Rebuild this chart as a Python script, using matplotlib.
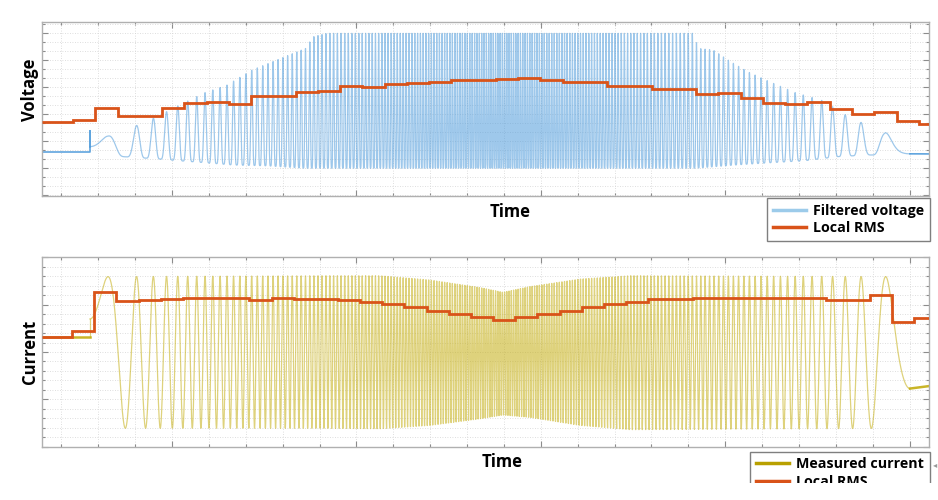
import numpy as np
import matplotlib
matplotlib.use("Agg")
import matplotlib.pyplot as plt
from matplotlib.ticker import MultipleLocator, NullFormatter
from matplotlib.lines import Line2D
from matplotlib.patches import Rectangle

plt.rcParams['font.family'] = ['Open Sans', 'DejaVu Sans']

# time axis (no tick labels in the original, arbitrary units)
t_min, t_max = 2.95, 51.05

# frequency sweep: instantaneous frequency, cycles per time unit
sweep_t = [5.55, 28.06, 50.02]
sweep_f = [0.0, 8.298, 0.0]
first_peak_offset = -0.177  # cycles before first peak when the sweep starts

# filtered voltage: idle levels and peak / trough envelopes
volt_idle_start = 0.59
volt_idle_end = 0.53
volt_spike = 1.39
volt_hi_t = [5.55, 6.53, 8.03, 8.92, 10.33, 11.73, 12.98, 14.34, 15.69, 16.62, 17.32, 17.59, 18.41,
             38.31, 38.52, 39.34, 40.31, 41.24, 42.43, 43.84, 45.19, 46.12, 46.6, 47.42, 48.61, 50.02]
volt_hi = [1.19, 1.19, 1.57, 1.83, 2.31, 2.79, 3.08, 3.64, 4.01, 4.27, 4.46, 4.86, 5.0,
           5.0, 4.44, 4.38, 3.94, 3.57, 3.20, 2.79, 2.53, 2.16, 1.94, 1.68, 1.31, 1.31]
volt_lo_t = [5.55, 7.29, 8.43, 9.35, 10.54, 11.9, 13.31, 15.15, 17.21, 38.36, 40.53, 42.32, 44.33, 46.12, 47.74, 50.02]
volt_lo = [0.43, 0.43, 0.38, 0.34, 0.27, 0.20, 0.12, 0.09, 0.0, 0.0, 0.12, 0.20, 0.28, 0.43, 0.49, 0.49]

# measured current: idle levels and envelopes
curr_idle_start = 0.31
curr_idle_end = -0.72
curr_env_t = [5.55, 18.1, 21.28, 23.99, 26.7, 27.95, 29.41, 32.13, 34.84, 50.02]
curr_hi = [1.59, 1.61, 1.61, 1.52, 1.36, 1.26, 1.38, 1.54, 1.61, 1.59]
curr_lo = [-1.61, -1.61, -1.62, -1.55, -1.41, -1.33, -1.38, -1.55, -1.64, -1.61]

# local RMS, one value per window
volt_rms_first, volt_rms_win = 4.63, 1.207
volt_rms = [1.726, 1.789, 2.244, 1.948, 1.948, 2.222, 2.407, 2.437, 2.381, 2.678,
            2.678, 2.826, 2.874, 3.059, 3.0, 3.133, 3.170, 3.196, 3.270, 3.270,
            3.307, 3.333, 3.259, 3.185, 3.185, 3.059, 3.059, 2.937, 2.937, 2.741,
            2.8, 2.593, 2.407, 2.393, 2.444, 2.185, 2.022, 2.096, 1.763, 1.630]
curr_rms_first, curr_rms_win = 4.58, 1.2017
curr_rms = [0.31, 0.445, 1.271, 1.074, 1.095, 1.117, 1.131, 1.131, 1.131, 1.102,
            1.131, 1.117, 1.123, 1.095, 1.059, 1.004, 0.941, 0.869, 0.799, 0.742,
            0.686, 0.742, 0.799, 0.869, 0.941, 1.011, 1.059, 1.110, 1.110, 1.131,
            1.131, 1.131, 1.131, 1.131, 1.131, 1.095, 1.095, 1.201, 0.636, 0.708]

BLUE = '#4f9bdb'
GOLD = '#c4ad10'
RED = '#d95319'

# sweep phase
t = np.linspace(sweep_t[0], sweep_t[-1], 60000)
f = np.interp(t, sweep_t, sweep_f)
cyc = np.concatenate([[0.0], np.cumsum((f[1:] + f[:-1]) / 2 * np.diff(t))]) + first_peak_offset
ph = 2 * np.pi * cyc

hi = np.interp(t, volt_hi_t, volt_hi)
lo = np.interp(t, volt_lo_t, volt_lo)
volt = lo + (hi - lo) * ((1 + np.cos(ph)) / 2) ** 2.2

chi = np.interp(t, curr_env_t, curr_hi)
clo = np.interp(t, curr_env_t, curr_lo)
curr = (chi + clo) / 2 + (chi - clo) / 2 * np.cos(ph)


def rms_edges(first, win, n):
    return np.concatenate([[t_min], first + win * np.arange(n - 1), [t_max]])


fig = plt.figure(figsize=(9.38, 5.0), dpi=100)
ax1 = fig.add_axes([0.0448, 0.608, 0.9456, 0.348])
ax2 = fig.add_axes([0.0448, 0.1066, 0.9456, 0.3788])

# voltage: idle parts drawn stronger, sweep drawn thin and light
ax1.plot([t_min, sweep_t[0], sweep_t[0], t[0]], [volt_idle_start, volt_idle_start, volt_spike, volt[0]],
         color=BLUE, lw=1.2, alpha=0.9)
ax1.plot(t, volt, color=BLUE, lw=0.9, alpha=0.55)
ax1.plot([t[-1], t_max], [volt[-1], volt_idle_end], color=BLUE, lw=1.2, alpha=0.9)
ax1.stairs(volt_rms, rms_edges(volt_rms_first, volt_rms_win, len(volt_rms)),
           color=RED, lw=2, baseline=None, zorder=3)

# current
ax2.plot([t_min, sweep_t[0]], [curr_idle_start, curr_idle_start], color=GOLD, lw=1.8, alpha=0.9)
ax2.plot([sweep_t[0], sweep_t[0]], [curr_idle_start, curr[0]], color=GOLD, lw=0.9, alpha=0.55)
ax2.plot(t, curr, color=GOLD, lw=0.9, alpha=0.55)
ax2.plot([t[-1], t_max], [curr[-1], curr_idle_end], color=GOLD, lw=1.8, alpha=0.9)
ax2.stairs(curr_rms, rms_edges(curr_rms_first, curr_rms_win, len(curr_rms)),
           color=RED, lw=2, baseline=None, zorder=3)

ax1.set_ylim(-1.03, 5.42)
ax1.yaxis.set_major_locator(MultipleLocator(1))
ax1.yaxis.set_minor_locator(MultipleLocator(1 / 3))
ax2.set_ylim(-2.0, 2.0)
ax2.yaxis.set_major_locator(MultipleLocator(1))
ax2.yaxis.set_minor_locator(MultipleLocator(0.2))

for ax in (ax1, ax2):
    ax.set_xlim(t_min, t_max)
    ax.xaxis.set_major_locator(MultipleLocator(10))
    ax.xaxis.set_minor_locator(MultipleLocator(2))
    ax.xaxis.set_major_formatter(NullFormatter())
    ax.yaxis.set_major_formatter(NullFormatter())
    ax.tick_params(which='both', direction='in', top=True, right=True, color='#8c8c8c', width=0.8)
    ax.tick_params(which='major', length=4)
    ax.tick_params(which='minor', length=2.5)
    ax.grid(True, which='both', color='#d4d4d4', lw=0.6, ls=(0, (1, 2)))
    ax.set_axisbelow(True)
    for s in ax.spines.values():
        s.set_color('#b0b0b0')
        s.set_linewidth(1.0)

ax1.set_xlabel('Time', fontsize=12, fontweight='bold', va='center')
ax1.xaxis.set_label_coords(0.528, -0.090)
ax1.set_ylabel('Voltage', fontsize=12, fontweight='bold', va='center')
ax1.yaxis.set_label_coords(-0.0135, 0.609)
ax2.set_xlabel('Time', fontsize=12, fontweight='bold', va='center')
ax2.xaxis.set_label_coords(0.519, -0.079)
ax2.set_ylabel('Current', fontsize=12, fontweight='bold', va='center')
ax2.yaxis.set_label_coords(-0.0135, 0.5)

leg_kw = dict(loc='upper right', bbox_transform=fig.transFigure, borderaxespad=0,
              fancybox=False, framealpha=1, edgecolor='#7f7f7f', handlelength=2.3,
              handletextpad=0.5, borderpad=0.4, labelspacing=0.25,
              prop={'weight': 'bold', 'size': 10.3})
l1 = ax1.legend([Line2D([], [], color='#9ccbea', lw=2.5), Line2D([], [], color=RED, lw=2.5)],
                ['Filtered voltage', 'Local RMS'], bbox_to_anchor=(929.5 / 938, 1 - 198 / 500), **leg_kw)
l2 = ax2.legend([Line2D([], [], color='#b8a000', lw=2.5), Line2D([], [], color=RED, lw=2.5)],
                ['Measured current', 'Local RMS'], bbox_to_anchor=(929.5 / 938, 1 - 451.7 / 500), **leg_kw)
for lg in (l1, l2):
    lg.get_frame().set_linewidth(1.0)

fig.text(935 / 938, 1 - 466 / 500, '\u25c2', fontsize=6, color='#999999', ha='center', va='center')
fig.patches.append(Rectangle((0, 0), 1, 17 / 500, transform=fig.transFigure,
                             facecolor='white', edgecolor='none', zorder=10))

fig.savefig('out.png', dpi=100)
